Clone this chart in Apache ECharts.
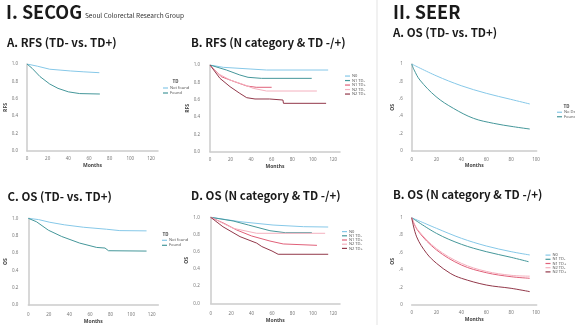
<!DOCTYPE html>
<html>
<head>
<meta charset="utf-8">
<script src="https://cdn.jsdelivr.net/npm/echarts@6/dist/echarts.min.js"></script>
<style>
  html, body { margin: 0; padding: 0; background: #fff; }
  #chart { width: 575px; height: 325px; }
</style>
</head>
<body>
<div id="chart"></div>
<script>
// ---- Kaplan–Meier estimates: [months, survival probability] ----
// SECOG cohort, recurrence-free survival by tumour deposit status
const secogRfsTdNeg = [[0,1.0],[10,0.975],[22,0.94],[32,0.93],[42,0.92],[55,0.91],[70,0.90]];
const secogRfsTdPos = [[0,1.0],[5,0.95],[12.6,0.855],[22,0.77],[30,0.72],[40,0.68],[51,0.66],[70.5,0.655]];

// SECOG cohort, overall survival by tumour deposit status
const secogOsTdNeg = [[0,1.0],[10,0.985],[21,0.954],[35,0.925],[53.5,0.897],[76,0.874],[89,0.858],[115,0.855]];
const secogOsTdPos = [[0,1.0],[8,0.96],[19.5,0.863],[32.5,0.79],[50,0.714],[66.5,0.664],[74.6,0.657],[75,0.637],[78,0.626],[115,0.622]];

// SECOG cohort, RFS by N category and TD status
const secogRfsN0    = [[0,1],[13,0.973],[39,0.954],[55,0.942],[115,0.942]];
const secogRfsN1Neg = [[0,1],[16,0.942],[29,0.885],[37,0.858],[50,0.846],[99,0.846]];
const secogRfsN1Pos = [[0,1],[11,0.865],[24,0.807],[35.7,0.758],[45,0.743],[60,0.743]];
const secogRfsN2Neg = [[0,1],[8,0.90],[19.5,0.827],[34,0.769],[42,0.731],[55,0.70],[104,0.70]];
const secogRfsN2Pos = [[0,1],[9.7,0.846],[19.5,0.75],[29,0.673],[35.7,0.623],[43.8,0.608],[58,0.608],[58.5,0.596],[71,0.596],[71.5,0.558],[113,0.558]];

// SECOG cohort, OS by N category and TD status
const secogOsN0    = [[0,1],[28.7,0.949],[61,0.91],[90.8,0.891],[115,0.887]];
const secogOsN1Neg = [[0,1],[22,0.957],[37,0.91],[58,0.844],[73,0.821],[99,0.821]];
const secogOsN1Pos = [[0,1],[13,0.93],[25.5,0.852],[40,0.783],[58,0.724],[71,0.69],[104,0.674]];
const secogOsN2Neg = [[0,1],[22,0.872],[45,0.814],[112,0.814]];
const secogOsN2Pos = [[0,1],[12,0.89],[28.7,0.775],[45,0.70],[50,0.66],[60,0.608],[66,0.57],[115,0.57]];

// SEER cohort, OS by tumour deposit status
const seerOsTdNeg = [[0,1],[19.6,0.865],[39.8,0.75],[60,0.662],[79.5,0.593],[95,0.539]];
const seerOsTdPos = [[0,1],[2,0.93],[6.6,0.815],[19.6,0.623],[33.5,0.489],[49.6,0.374],[65.7,0.316],[81.7,0.277],[95,0.25]];

// SEER cohort, OS by N category and TD status
const seerOsN0    = [[0,1],[20,0.878],[40,0.764],[60,0.676],[80,0.611],[95,0.573]];
const seerOsN1Neg = [[0,1],[20,0.82],[40,0.695],[60,0.611],[80,0.546],[94,0.496]];
const seerOsN1Pos = [[0,1],[5,0.85],[20,0.63],[40,0.458],[60,0.37],[80,0.324],[95,0.306]];
const seerOsN2Neg = [[0,1],[5,0.86],[20,0.645],[40,0.477],[60,0.385],[80,0.34],[95,0.33]];
const seerOsN2Pos = [[0,1],[4,0.78],[12,0.592],[20,0.477],[31,0.363],[40,0.306],[60,0.229],[80,0.191],[95,0.153]];

// legend labels
const tdLabelsSecog = ['Not found', 'Found'];
const tdLabelsSeer  = ['No Deposit', 'Found'];
const nLabels = ['N0', 'N1 TD-', 'N1 TD+', 'N2 TD-', 'N2 TD+'];

// ---- styling ----
const C_N0 = '#86c8e8', C_TEAL = '#45979a', C_RED = '#e06079', C_PINK = '#f4b0be', C_MAROON = '#92384a';
const HEAD_FONT = '"Noto Sans CJK KR", "Noto Sans", sans-serif';
const AXIS_GREY = '#cbcbcb';

const chart = echarts.init(document.getElementById('chart'), null, { renderer: 'canvas' });

// plot rectangles: x0 = pixel of month 0, x120 = pixel of the last labelled tick,
// xEnd = where the axis line stops, y at 1.0 and 0.0, axis offsets
const panels = [
  { x0: 27,    xLast: 151,   xEnd: 158,   yTop: 64,    yBot: 151,   yOff: 6, xOff: 3,   last: 120, yName: 'RFS', seer: false, showY: true },
  { x0: 210,   xLast: 333.3, xEnd: 340,   yTop: 65,    yBot: 151.7, yOff: 7, xOff: 3.3, last: 120, yName: 'RFS', seer: false, showY: true },
  { x0: 28.3,  xLast: 151.7, xEnd: 158.3, yTop: 218.3, yBot: 305.7, yOff: 7, xOff: 5,   last: 120, yName: 'OS',  seer: false, showY: true },
  { x0: 210.7, xLast: 333.3, xEnd: 340,   yTop: 217.3, yBot: 303.3, yOff: 8, xOff: 5.7, last: 120, yName: 'OS',  seer: false, showY: true },
  { x0: 411.7, xLast: 536,   xEnd: 536.7, yTop: 64,    yBot: 150.7, yOff: 6, xOff: 3.6, last: 100, yName: 'OS',  seer: true,  showY: true },
  { x0: 411.7, xLast: 536,   xEnd: 536.7, yTop: 217.7, yBot: 305,   yOff: 6, xOff: 3,   last: 100, yName: 'OS',  seer: true,  showY: false }
];

const grids = [], xAxes = [], yAxes = [];
panels.forEach((p, i) => {
  const pxPerMonth = (p.xLast - p.x0) / p.last;
  const xMax = (p.xEnd - p.x0) / pxPerMonth;
  grids.push({ left: p.x0, top: p.yTop, width: p.xEnd - p.x0, height: p.yBot - p.yTop, containLabel: false });
  xAxes.push({
    type: 'value', gridIndex: i, min: 0, max: xMax, interval: 20, offset: p.xOff,
    name: 'Months', nameLocation: 'middle', nameGap: 9,
    nameTextStyle: { fontSize: 5, color: '#444', fontWeight: 'bold', fontFamily: 'Noto Sans' },
    axisLine: { show: true, lineStyle: { color: AXIS_GREY, width: 1.5 } },
    axisTick: { show: false },
    axisLabel: { fontSize: 4.5, color: '#777', margin: 2.5, fontFamily: 'Noto Sans',
                 showMaxLabel: xMax - p.last < 1,
                 formatter: v => (v % 20 === 0 ? String(v) : '') },
    splitLine: { show: false }
  });
  yAxes.push({
    type: 'value', gridIndex: i, min: 0, max: 1, interval: 0.2, offset: p.yOff,
    name: p.yName, nameLocation: 'middle', nameGap: 10, nameRotate: 90,
    nameTextStyle: { fontSize: 5, color: '#444', fontWeight: 'bold', fontFamily: 'Noto Sans' },
    axisLine: { show: p.showY, lineStyle: { color: AXIS_GREY, width: 1.5 } },
    axisTick: { show: false },
    axisLabel: {
      fontSize: 4.5, color: '#777', margin: 3, fontFamily: 'Noto Sans',
      formatter: p.seer
        ? (v => v === 1 ? '1' : v === 0 ? '0' : '.' + Math.round(v * 10))
        : (v => v.toFixed(1))
    },
    splitLine: { show: false }
  });
});

function km(name, data, color, idx, smooth) {
  return {
    type: 'line', name: name, data: data, xAxisIndex: idx, yAxisIndex: idx,
    showSymbol: false, smooth: smooth ? 0.35 : false,
    lineStyle: { color: color, width: 1 }, itemStyle: { color: color },
    emphasis: { disabled: true }, animation: false
  };
}

const series = [
  km(tdLabelsSecog[0], secogRfsTdNeg, C_N0, 0),
  km(tdLabelsSecog[1], secogRfsTdPos, C_TEAL, 0),

  km(nLabels[0], secogRfsN0, C_N0, 1),
  km(nLabels[1], secogRfsN1Neg, C_TEAL, 1),
  km(nLabels[2], secogRfsN1Pos, C_RED, 1),
  km(nLabels[3], secogRfsN2Neg, C_PINK, 1),
  km(nLabels[4], secogRfsN2Pos, C_MAROON, 1),

  km(tdLabelsSecog[0], secogOsTdNeg, C_N0, 2),
  km(tdLabelsSecog[1], secogOsTdPos, C_TEAL, 2),

  km(nLabels[0], secogOsN0, C_N0, 3),
  km(nLabels[1], secogOsN1Neg, C_TEAL, 3),
  km(nLabels[2], secogOsN1Pos, C_RED, 3),
  km(nLabels[3], secogOsN2Neg, C_PINK, 3),
  km(nLabels[4], secogOsN2Pos, C_MAROON, 3),

  km(tdLabelsSeer[0], seerOsTdNeg, C_N0, 4, true),
  km(tdLabelsSeer[1], seerOsTdPos, C_TEAL, 4, true),

  km(nLabels[0], seerOsN0, C_N0, 5, true),
  km(nLabels[1], seerOsN1Neg, C_TEAL, 5, true),
  km(nLabels[2], seerOsN1Pos, C_RED, 5, true),
  km(nLabels[3], seerOsN2Neg, C_PINK, 5, true),
  km(nLabels[4], seerOsN2Pos, C_MAROON, 5, true)
];

function legend(names, left, top, gap) {
  return {
    data: names, left: left, top: top, orient: 'vertical', icon: 'rect',
    itemWidth: 5, itemHeight: 1.2, itemGap: 0, padding: 0, selectedMode: false,
    textStyle: { fontSize: 4, lineHeight: gap, color: '#555', fontFamily: 'Noto Sans', padding: [0, 0, 0, -3] }
  };
}

const legends = [
  legend(tdLabelsSecog, 163, 85.5, 5),
  legend(nLabels, 345, 73.8, 4.5),
  legend(tdLabelsSecog, 162, 237.8, 5),
  legend(nLabels, 342, 229.5, 4.2),
  legend(tdLabelsSeer, 557, 110, 4.5),
  legend(nLabels, 545.5, 253, 4.2)
];

function text(str, x, y, size, weight, color) {
  return {
    type: 'text', x: x, y: y, silent: true,
    style: { text: str, font: (weight || 'normal') + ' ' + size + 'px ' + HEAD_FONT,
             fill: color || '#1a1a1a', align: 'left', verticalAlign: 'middle' }
  };
}

const graphics = [
  // vertical divider between the two cohorts
  { type: 'line', silent: true, shape: { x1: 377, y1: 0, x2: 377, y2: 325 }, style: { stroke: '#ececec', lineWidth: 1.5 } },

  text('I. SECOG', 6, 12.5, 18, 'bold'),
  text('Seoul Colorectal Research Group', 85, 15.5, 6.5, 'normal', '#333'),
  text('A. RFS (TD- vs. TD+)', 7, 43, 11.5, 'bold'),
  text('B. RFS (N category & TD -/+)', 191, 43, 11.5, 'bold'),
  text('C. OS (TD- vs. TD+)', 7.5, 196.5, 11.5, 'bold'),
  text('D. OS (N category & TD -/+)', 191, 196, 11.5, 'bold'),

  text('II. SEER', 393, 12.5, 18, 'bold'),
  text('A. OS (TD- vs. TD+)', 393, 33, 11.5, 'bold'),
  text('B. OS (N category & TD -/+)', 393, 195, 11.5, 'bold'),

  // legend headings
  text('TD', 172.5, 81, 4.5, 'bold', '#444'),
  text('TD', 162.5, 234, 4.5, 'bold', '#444'),
  text('TD', 563.5, 106.5, 4.5, 'bold', '#444')
];

chart.setOption({
  animation: false,
  backgroundColor: '#fff',
  grid: grids,
  xAxis: xAxes,
  yAxis: yAxes,
  legend: legends,
  series: series,
  graphic: graphics
});
</script>
</body>
</html>
